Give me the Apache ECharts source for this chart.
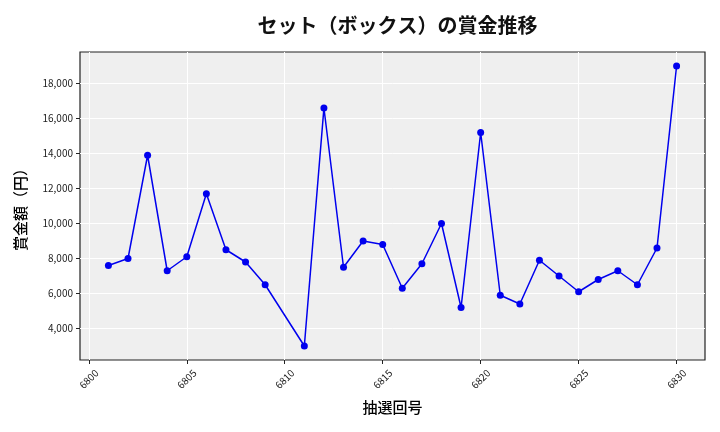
<!DOCTYPE html>
<html>
<head>
<meta charset="utf-8">
<script src="https://cdn.jsdelivr.net/npm/echarts@6/dist/echarts.min.js"></script>
<style>html,body{margin:0;padding:0;background:#fff}#c{width:720px;height:432px}</style>
</head>
<body>
<div id="c"></div>
<script>
const draws = [6801,6802,6803,6804,6805,6806,6807,6808,6809,6811,6812,6813,6814,6815,6816,6817,6818,6819,6820,6821,6822,6823,6824,6825,6826,6827,6828,6829,6830];
const prizes = [7600,8000,13900,7300,8100,11700,8500,7800,6500,3000,16600,7500,9000,8800,6300,7700,10000,5200,15200,5900,5400,7900,7000,6100,6800,7300,6500,8600,19000];
const xTicks = [6800,6805,6810,6815,6820,6825,6830];
const yTicks = [4000,6000,8000,10000,12000,14000,16000,18000];

const font = '"Noto Sans CJK JP", "Noto Sans", sans-serif';
const chart = echarts.init(document.getElementById('c'), null, {renderer: 'canvas'});
chart.setOption({
  animation: false,
  title: {
    text: 'セット（ボックス）の賞金推移',
    left: 392.5, top: 10, textAlign: 'center',
    textStyle: {fontFamily: font, fontSize: 20, fontWeight: 'bold', color: '#111'}
  },
  grid: {
    left: 80, right: 15, top: 52, bottom: 72,
    show: true, backgroundColor: '#efefef', borderColor: '#222', borderWidth: 1.2
  },
  xAxis: {
    type: 'value', min: 6799.55, max: 6831.45,
    name: '抽選回号', nameLocation: 'middle', nameGap: 40,
    nameTextStyle: {fontFamily: font, fontSize: 15, fontWeight: 500, color: '#000'},
    axisLine: {show: false},
    axisTick: {show: true, length: 4, customValues: xTicks, lineStyle: {color: '#222'}},
    axisLabel: {customValues: xTicks, rotate: 45, align: 'center', verticalAlign: 'middle', margin: 19,
      fontFamily: font, fontSize: 10, color: '#222', formatter: v => String(v)},
    splitLine: {show: true, lineStyle: {color: '#fff', width: 1}}
  },
  yAxis: {
    type: 'value', min: 2200, max: 19800,
    name: '賞金額（円）', nameLocation: 'middle', nameGap: 52, nameRotate: 90,
    nameTextStyle: {fontFamily: font, fontSize: 15, fontWeight: 500, color: '#000'},
    axisLine: {show: false},
    axisTick: {show: true, length: 4, customValues: yTicks, lineStyle: {color: '#222'}},
    axisLabel: {customValues: yTicks, margin: 7, fontFamily: font, fontSize: 10, color: '#222',
      formatter: v => v.toLocaleString('en-US')},
    splitLine: {show: true, lineStyle: {color: '#fff', width: 1}}
  },
  series: [{
    type: 'line',
    data: draws.map((d, i) => [d, prizes[i]]),
    symbol: 'circle', symbolSize: 7,
    lineStyle: {color: '#0000ee', width: 1.5},
    itemStyle: {color: '#0000ee'}
  }]
});
</script>
</body>
</html>
